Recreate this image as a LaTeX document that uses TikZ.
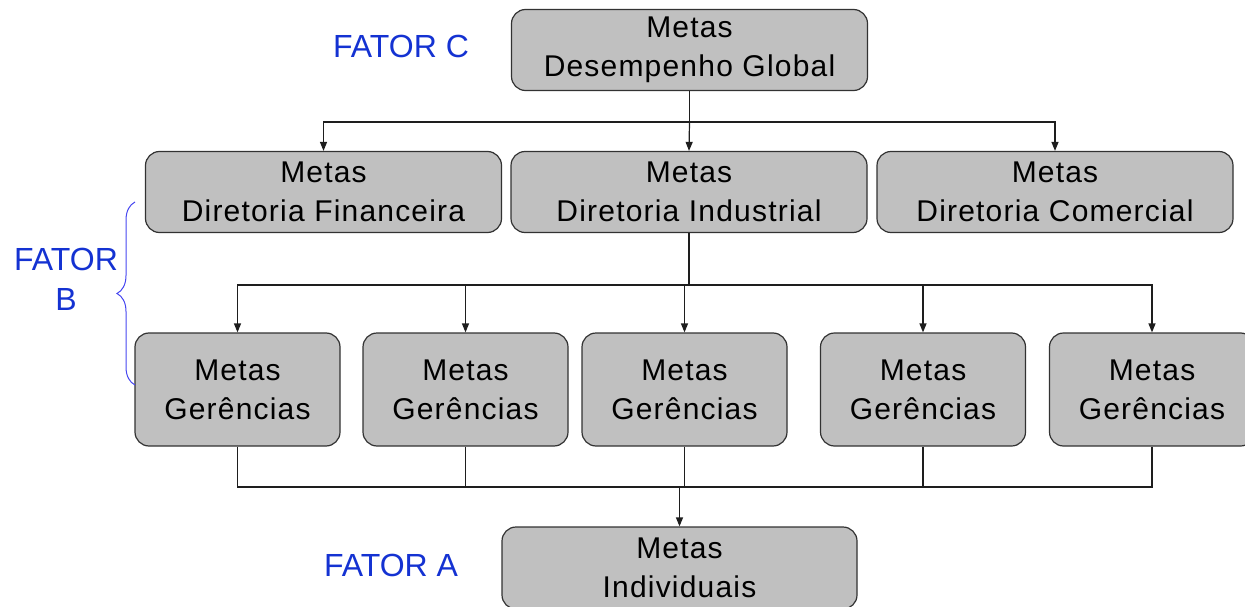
\documentclass[tikz,border=0pt]{standalone}
\usepackage{fontspec}
\setmainfont{Liberation Sans}
\newfontfamily\boxfont[LetterSpace=4]{Liberation Sans}
\usetikzlibrary{arrows.meta,decorations.pathreplacing}
\definecolor{boxfill}{RGB}{192,192,192}
\definecolor{boxline}{RGB}{50,50,50}
\definecolor{lineclr}{RGB}{30,30,30}
\definecolor{fatorblue}{RGB}{20,50,210}
\definecolor{bracec}{RGB}{70,70,240}
\begin{document}
\begin{tikzpicture}[x=1pt,y=-1pt,
  box/.style={draw=boxline, line width=1.2pt, fill=boxfill, rounded corners=14pt,
    align=center, inner sep=0pt, font=\boxfont\fontsize{30}{39}\selectfont},
  wide/.style={box, minimum width=356pt, minimum height=81pt},
  ger/.style={box, minimum width=205pt, minimum height=113pt},
  conn/.style={draw=lineclr, line width=1.2pt},
  arr/.style={conn, -{Triangle[length=9pt,width=7pt]}},
  fator/.style={text=fatorblue, align=center, inner sep=0pt, font=\fontsize{32}{40}\selectfont}]
\useasboundingbox (0,0) rectangle (1245,607);
% boxes
\node[wide] (top) at (689.5,50) {Metas\\Desempenho Global};
\node[wide] (fin) at (323.5,192) {Metas\\Diretoria Financeira};
\node[wide] (ind) at (689,192) {Metas\\Diretoria Industrial};
\node[wide] (com) at (1055,192) {Metas\\Diretoria Comercial};
\node[ger] (g1) at (237.5,389.5) {Metas\\Gerências};
\node[ger] (g2) at (465.5,389.5) {Metas\\Gerências};
\node[ger] (g3) at (684.5,389.5) {Metas\\Gerências};
\node[ger] (g4) at (923,389.5) {Metas\\Gerências};
\node[ger] (g5) at (1152,389.5) {Metas\\Gerências};
\node[wide, minimum width=355pt, minimum height=82pt] (indv) at (679.5,568) {Metas\\Individuais};
% labels
\node[fator] (fc) at (401,46) {FATOR C};
\node[fator] (fb) at (66,279) {FATOR\\B};
\node[fator] (fa) at (391,565) {FATOR A};
% brace
\coordinate (bb) at (135,385);
\coordinate (bt) at (135,202);
\draw[bracec, line width=1pt, decorate, decoration={brace, amplitude=18pt}] (bb) -- (bt);
% connectors level 1
\coordinate (j1) at (689.5,122);
\draw[conn] (top.south) -- (j1);
\draw[arr] (j1) -| (fin.north);
\draw[arr] (j1) -| (com.north);
\draw[arr] (j1) -- (ind.north);
% connectors level 2
\coordinate (j2) at (689,285);
\draw[conn] (ind.south) -- (j2);
\draw[arr] (j2) -| (g1.north);
\draw[arr] (j2) -| (g2.north);
\draw[arr] (j2) -| (g3.north);
\draw[arr] (j2) -| (g4.north);
\draw[arr] (j2) -| (g5.north);
% connectors level 3
\coordinate (j3) at (679.5,487);
\draw[conn] (g1.south) |- (j3);
\draw[conn] (g2.south) |- (j3);
\draw[conn] (g3.south) |- (j3);
\draw[conn] (g4.south) |- (j3);
\draw[conn] (g5.south) |- (j3);
\draw[arr] (j3) -- (indv.north);
\end{tikzpicture}
\end{document}
